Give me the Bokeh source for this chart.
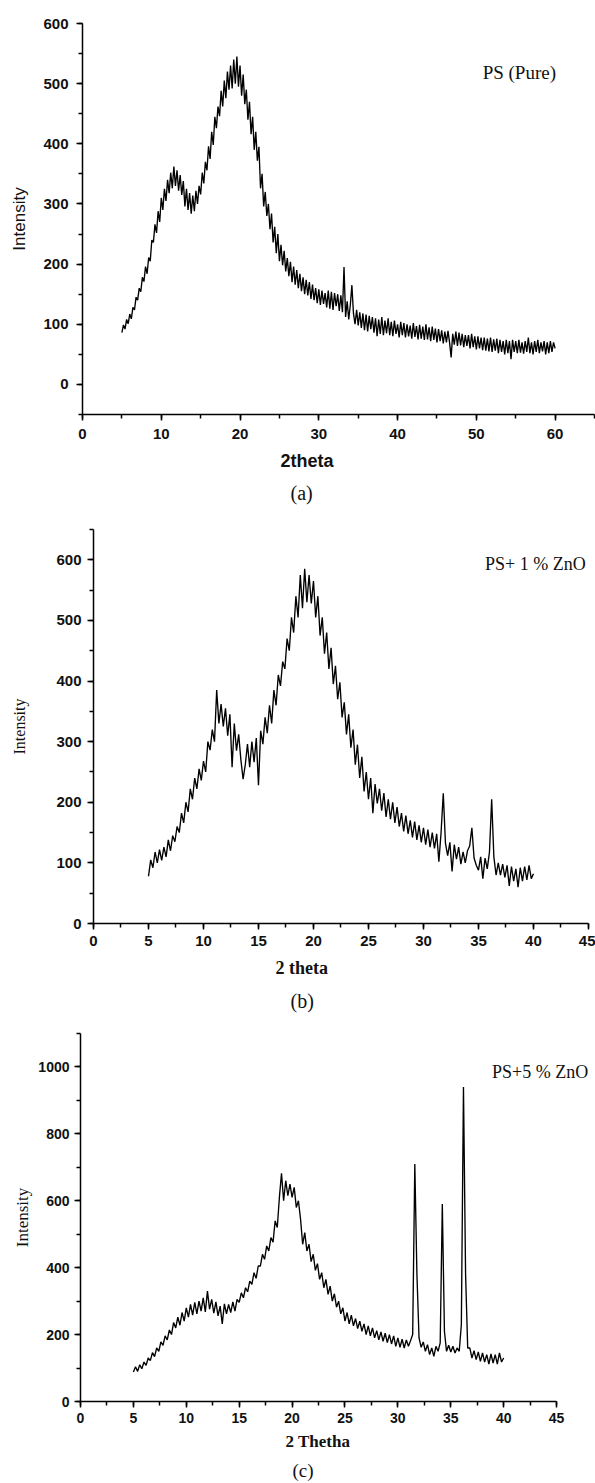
import numpy as np
from bokeh.plotting import figure
from bokeh.models import Range1d, SingleIntervalTicker, Label, Title
from bokeh.embed import file_html
from bokeh.resources import INLINE

# ---------------- data ----------------
# (a) PS (Pure): 2theta 5..60, step 0.2
two_theta_a = np.round(np.arange(5.0, 60.0 + 1e-9, 0.2), 1)
intensity_a = [
    86, 99, 92, 108, 101, 117, 109, 128, 124, 145,
    140, 160, 154, 178, 171, 196, 184, 211, 205, 240,
    236, 266, 252, 288, 270, 310, 290, 325, 305, 340,
    318, 352, 326, 362, 330, 356, 322, 348, 315, 338,
    296, 325, 290, 318, 284, 314, 288, 322, 300, 330,
    316, 352, 334, 370, 356, 396, 375, 420, 398, 445,
    426, 462, 446, 488, 462, 505, 476, 520, 490, 530,
    492, 540, 500, 545, 495, 530, 480, 515, 466, 490,
    440, 470, 416, 445, 390, 420, 372, 395, 326, 350,
    296, 320, 280, 300, 258, 284, 236, 262, 218, 250,
    205, 232, 198, 222, 188, 210, 180, 204, 170, 196,
    166, 190, 160, 184, 155, 178, 150, 174, 148, 170,
    142, 166, 140, 160, 135, 158, 132, 156, 134, 152,
    128, 156, 126, 154, 124, 152, 130, 150, 122, 148,
    120, 195, 112, 138, 108, 132, 165, 118, 100, 124,
    98, 120, 94, 118, 90, 116, 88, 114, 92, 112,
    86, 110, 80, 108, 84, 112, 82, 106, 85, 110,
    82, 104, 80, 106, 84, 100, 78, 104, 82, 102,
    78, 100, 80, 98, 76, 102, 79, 97, 75, 99,
    76, 96, 74, 100, 75, 95, 72, 96, 74, 93,
    70, 92, 72, 90, 68, 88, 70, 89, 70, 45,
    84, 66, 88, 64, 86, 65, 84, 62, 82, 64,
    82, 60, 84, 62, 80, 58, 80, 60, 78, 57,
    78, 56, 76, 55, 78, 54, 75, 56, 76, 52,
    74, 54, 72, 50, 74, 52, 72, 42, 74, 54,
    72, 52, 74, 53, 70, 51, 72, 54, 78, 52,
    70, 50, 72, 54, 74, 52, 70, 55, 72, 50,
    70, 52, 72, 54, 70, 60,
]

# (b) PS + 1 % ZnO: 2theta 5..40, step 0.2
two_theta_b = np.round(np.arange(5.0, 40.0 + 1e-9, 0.2), 1)
intensity_b = [
    78, 105, 92, 118, 100, 122, 104, 126, 110, 138,
    120, 145, 135, 160, 150, 182, 166, 200, 184, 222,
    205, 240, 222, 255, 236, 268, 250, 300, 286, 320,
    300, 385, 330, 362, 325, 355, 310, 345, 258, 330,
    285, 312, 270, 238, 262, 296, 258, 300, 266, 306,
    228, 318, 296, 340, 314, 360, 330, 385, 360, 410,
    392, 432, 420, 470, 450, 505, 480, 540, 505, 575,
    520, 585, 530, 575, 528, 565, 505, 540, 475, 505,
    445, 480, 420, 455, 395, 425, 370, 398, 340, 365,
    312, 345, 290, 320, 262, 295, 240, 275, 218, 250,
    205, 240, 182, 230, 198, 222, 186, 215, 176, 205,
    172, 200, 166, 192, 160, 182, 152, 178, 148, 170,
    142, 168, 138, 162, 134, 158, 130, 155, 126, 150,
    124, 148, 102, 150, 215, 132, 112, 134, 86, 130,
    106, 126, 98, 118, 100, 120, 128, 158, 108, 96,
    88, 110, 74, 108, 90, 118, 205, 110, 80, 100,
    80, 98, 76, 96, 62, 94, 70, 90, 60, 92,
    70, 94, 72, 96, 74, 82,
]

# (c) PS + 5 % ZnO: 2theta 5..40, step 0.2
two_theta_c = np.round(np.arange(5.0, 40.0 + 1e-9, 0.2), 1)
intensity_c = [
    88, 104, 90, 110, 98, 118, 108, 130, 122, 146,
    134, 160, 150, 178, 168, 196, 184, 214, 200, 236,
    220, 252, 228, 266, 240, 280, 252, 290, 258, 296,
    262, 300, 270, 310, 268, 330, 276, 305, 264, 298,
    256, 285, 232, 292, 262, 290, 266, 298, 270, 305,
    296, 325, 310, 340, 328, 360, 350, 385, 368, 405,
    405, 440, 425, 465, 450, 490, 476, 540, 520, 610,
    682, 600, 660, 615, 650, 610, 640, 580, 600, 545,
    470, 505, 450, 470, 418, 440, 392, 412, 365, 385,
    340, 365, 320, 345, 300, 322, 282, 300, 262, 280,
    240, 266, 232, 258, 226, 248, 218, 240, 210, 232,
    200, 226, 196, 220, 190, 212, 184, 208, 180, 204,
    176, 200, 172, 196, 165, 190, 162, 186, 160, 184,
    165, 182, 200, 710, 380, 190, 162, 178, 150, 170,
    140, 160, 135, 165, 150, 175, 590, 210, 150, 168,
    148, 165, 145, 160, 150, 230, 940, 380, 160, 160,
    130, 152, 125, 148, 120, 145, 118, 140, 112, 142,
    115, 140, 112, 145, 118, 130,
]

SANS = "Liberation Sans"
SERIF = "Liberation Serif"
INK = "#111111"


def make_panel(height, left, right, top, bottom, xr, yr, xbounds, xint, yint,
               tick_px, tick_standoff, ylabel, ylabel_font, ylabel_px, ylabel_standoff):
    p = figure(width=595, height=height,
               x_range=Range1d(*xr), y_range=Range1d(*yr),
               output_backend="svg", toolbar_location=None,
               min_border_left=left, min_border_right=right,
               min_border_top=top, min_border_bottom=bottom)
    p.outline_line_color = None
    p.grid.visible = False
    p.background_fill_color = "white"
    p.border_fill_color = "white"
    p.xaxis.ticker = SingleIntervalTicker(interval=xint, num_minor_ticks=2)
    p.yaxis.ticker = SingleIntervalTicker(interval=yint, num_minor_ticks=2)
    p.xaxis.bounds = xbounds
    for ax in (p.xaxis[0], p.yaxis[0]):
        ax.axis_line_width = 1.5
        ax.axis_line_color = "black"
        ax.major_tick_line_width = 1.5
        ax.minor_tick_line_width = 1.5
        ax.major_tick_line_color = "black"
        ax.minor_tick_line_color = "black"
        ax.major_tick_out = 6
        ax.major_tick_in = 0
        ax.minor_tick_out = 4
        ax.minor_tick_in = 0
        ax.major_label_text_font = SANS
        ax.major_label_text_font_style = "bold"
        ax.major_label_text_font_size = tick_px
        ax.major_label_text_color = INK
        ax.major_label_standoff = tick_standoff
    ya = p.yaxis[0]
    ya.axis_label = ylabel
    ya.axis_label_text_font = ylabel_font
    ya.axis_label_text_font_size = ylabel_px
    ya.axis_label_text_font_style = "normal"
    ya.axis_label_text_color = INK
    ya.axis_label_standoff = ylabel_standoff
    return p


def add_below(p, text, font, size, style, offset, standoff):
    p.add_layout(Title(text=text, text_font=font, text_font_size=size,
                       text_font_style=style, text_color=INK, align="left",
                       offset=offset, standoff=standoff, vertical_align="top"), "below")


def add_tag(p, x, y, text, size):
    p.add_layout(Label(x=x, y=y, text=text, text_font=SERIF, text_font_size=size,
                       text_align="left", text_baseline="middle", text_color=INK))


LW = 1.35

# ---- panel (a)
pa = make_panel(513, 82, 1, 23, 99, (0, 65), (-50, 600), (0, 65), 10, 100,
                "15px", 8, "Intensity", SANS, "17px", 11)
pa.line(two_theta_a, intensity_a, line_color="black", line_width=LW)
add_below(pa, "2theta", SANS, "18px", "bold", 198, 18)
add_below(pa, "(a)", SERIF, "20px", "normal", 208, 0)
add_tag(pa, 50.8, 519, "PS (Pure)", "19px")

# ---- panel (b)
pb = make_panel(505, 93, 0, 16, 95, (0, 45.64), (0, 650), (0, 45), 5, 100,
                "15px", 6, "Intensity", SERIF, "16px", 25)
pb.line(two_theta_b, intensity_b, line_color="black", line_width=LW)
add_below(pb, "2 theta", SERIF, "18px", "bold", 182, 19)
add_below(pb, "(b)", SERIF, "20px", "normal", 197, 0)
add_tag(pb, 35.6, 593, "PS+ 1 % ZnO", "18px")

# ---- panel (c)
pc = make_panel(465, 80, 0, 15, 82, (0, 48.68), (0, 1100), (0, 45), 5, 200,
                "14px", 5, "Intensity", SERIF, "17px", 3)
pc.line(two_theta_c, intensity_c, line_color="black", line_width=LW)
add_below(pc, "2 Thetha", SERIF, "17px", "bold", 205, 13)
add_below(pc, "(c)", SERIF, "19px", "normal", 212, 0)
add_tag(pc, 38.9, 984, "PS+5 % ZnO", "18px")

open("out.html", "w").write(file_html([pa, pb, pc], INLINE))
